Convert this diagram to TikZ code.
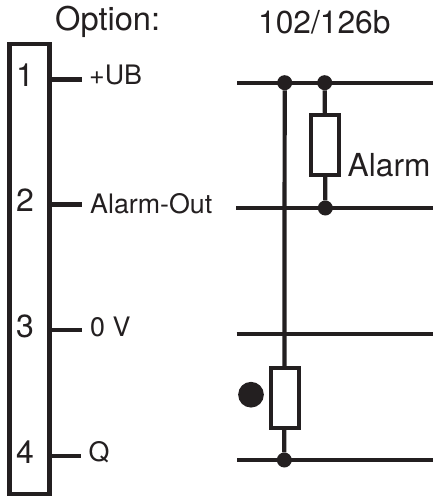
\documentclass[tikz,border=0pt]{standalone}
\usepackage{fontspec}
\setmainfont{TeX Gyre Heros}
\definecolor{ink}{HTML}{231F20}
\begin{document}
\begin{tikzpicture}[x=1pt,y=-1pt,
  wire/.style={line width=4.2pt,ink},
  res/.style={draw=ink,line width=4.2pt,fill=white,minimum width=27.5pt,minimum height=60.5pt,inner sep=0pt,outer sep=0pt},
  dot/.style={circle,fill=ink,inner sep=0pt,minimum size=15pt},
  big/.style={inner sep=0pt,anchor=base west,text=ink,font=\fontsize{31.7}{32}\selectfont},
  num/.style={inner sep=0pt,anchor=base,text=ink,font=\fontsize{32}{32}\selectfont},
  lab/.style={inner sep=0pt,anchor=base west,text=ink,font=\fontsize{26.8}{27}\selectfont}]
\useasboundingbox (0,0) rectangle (433,497);
\node[draw=ink,line width=4.3pt,minimum width=40.2pt,minimum height=449.4pt,inner sep=0pt,outer sep=0pt] (bar) at (29.5,269) {};
\node[big,font=\fontsize{32.6}{33}\selectfont] (t1) at (55,30.7) {Option:};
\node[big] (t2) at (258,33.3) {102/126b};
\node[num] (n1) at (25,86.7) {1};
\node[num] (n2) at (25,211) {2};
\node[num] (n3) at (25,337.7) {3};
\node[num] (n4) at (25,463) {4};
\node[lab] (l1) at (89,85) {+UB};
\node[lab] (l2) at (90,213.3) {Alarm-Out};
\node[lab] (l3) at (90,336.7) {0 V};
\node[lab] (l4) at (88.5,461.7) {Q};
\coordinate (s1) at (50,79.5); \coordinate (e1) at (82,79.5);
\coordinate (s2) at (50,204.5); \coordinate (e2) at (82,204.5);
\coordinate (s3) at (50,329.7); \coordinate (e3) at (82,329.7);
\coordinate (s4) at (50,455.7); \coordinate (e4) at (81,455.7);
\draw[wire] (s1) -- (e1);
\draw[wire] (s2) -- (e2);
\draw[wire] (s3) -- (e3);
\draw[wire] (s4) -- (e4);
\coordinate (a1) at (237,82.7); \coordinate (b1) at (433,82.7);
\coordinate (a2) at (236,208); \coordinate (b2) at (433,208);
\coordinate (a3) at (236.5,333.7); \coordinate (b3) at (433,333.7);
\coordinate (a4) at (237,460); \coordinate (b4) at (433,460);
\draw[wire] (a1) -- (b1);
\draw[wire] (a2) -- (b2);
\draw[wire] (a3) -- (b3);
\draw[wire] (a4) -- (b4);
\node[dot] (d1) at (284.7,82.7) {};
\node[dot] (d2) at (324.7,82.7) {};
\node[dot] (d3) at (325.3,208) {};
\node[dot] (d4) at (284.3,460) {};
\draw[wire] (d1) -- (d4);
\draw[wire] (d2) -- (d3);
\node[res] (r1) at (325,145) {};
\node[res] (r2) at (285,398) {};
\node[big] (al) at (347.5,176.7) {Alarm};
\node[circle,fill=ink,inner sep=0pt,minimum size=25.7pt] (bigdot) at (251,394.7) {};
\end{tikzpicture}
\end{document}
